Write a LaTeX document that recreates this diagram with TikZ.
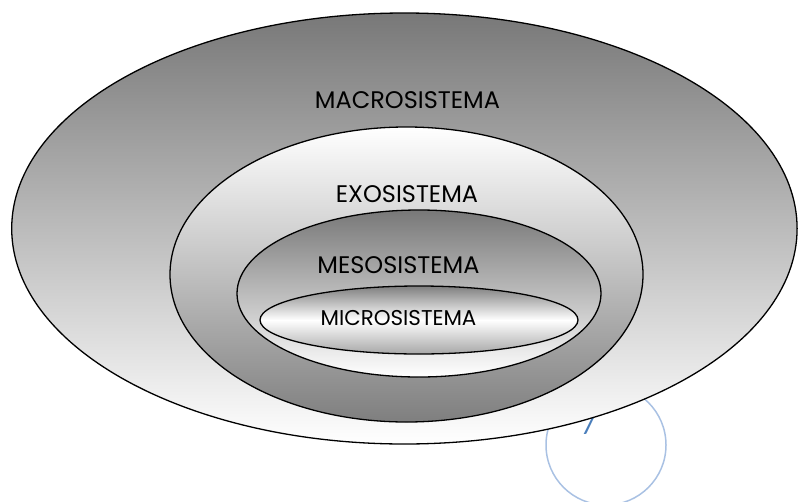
\documentclass[tikz,border=0pt]{standalone}
\usepackage{fontspec}
\setmainfont{Poppins}
\newfontfamily\pagefont{Carlito}
\definecolor{ringgray}{HTML}{787878}
\definecolor{pageblue}{HTML}{A9C1E3}
\definecolor{numblue}{HTML}{4A7EBB}
\pgfdeclareverticalshading{microshade}{100bp}{color(0bp)=(ringgray!65); color(25bp)=(ringgray!65); color(50bp)=(white); color(75bp)=(ringgray!95); color(100bp)=(ringgray!95)}
\begin{document}
\begin{tikzpicture}[x=1pt,y=-1pt,
    ring/.style={draw=black,line width=1.3pt},
    label/.style={inner sep=0pt,font=\fontsize{24}{24}\selectfont}]
  \useasboundingbox (0,0) rectangle (798,501);
  \clip (0,0) rectangle (798,501);
  % page number circle
  \draw[pageblue,line width=1.5pt] (606,445) circle (60);
  \node[anchor=base,inner sep=0pt,text=numblue,font=\pagefont\fontsize{28}{28}\selectfont] (pagenum) at (588,434) {7};
  % macrosistema
  \shade[ring,top color=ringgray,bottom color=white] (404.4,228.5) ellipse (392.7 and 215.5);
  % exosistema
  \shade[ring,top color=white,bottom color=ringgray!95] (406.5,274.5) ellipse (236.5 and 147.5);
  % mesosistema
  \shade[ring,top color=ringgray,bottom color=white] (419,293.5) ellipse (182 and 83.5);
  % microsistema
  \shade[ring,shading=microshade] (419,320) ellipse (159 and 34);
  % labels
  \node[label] (macro) at (407.5,100) {MACROSISTEMA};
  \node[label] (exo) at (407,194) {EXOSISTEMA};
  \node[label] (meso) at (398.5,265) {MESOSISTEMA};
  \node[label,font=\fontsize{21.4}{21.4}\selectfont] (micro) at (398.5,318) {MICROSISTEMA};
\end{tikzpicture}
\end{document}
